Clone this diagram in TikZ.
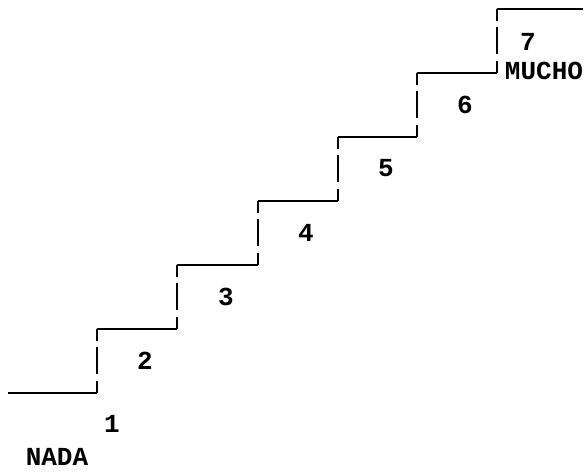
\documentclass[tikz,border=0pt]{standalone}
\usepackage{fontspec}
\setmonofont{Liberation Mono}
\begin{document}
\begin{tikzpicture}[
	x=1pt, y=-1pt,
	tread/.style = {line width=1.6pt},
	riser/.style = {line width=1.6pt, dash pattern=on 12pt off 6pt on 27pt off 7pt on 30pt},
	lbl/.style = {font=\ttfamily\bfseries\fontsize{26}{30}\selectfont, inner sep=0pt},
]
\useasboundingbox (0,0) rectangle (587,472);

% Floor and treads
\coordinate (s0) at (8,393);
\coordinate (s1) at (97,393);
\coordinate (t1) at (97,329);
\coordinate (s2) at (177,329);
\coordinate (t2) at (177,265);
\coordinate (s3) at (258,265);
\coordinate (t3) at (258,201);
\coordinate (s4) at (338,201);
\coordinate (t4) at (338,137);
\coordinate (s5) at (417,137);
\coordinate (t5) at (417,73);
\coordinate (s6) at (497,73);
\coordinate (t6) at (497,9);
\coordinate (s7) at (583,9);

\draw[tread] (s0) -- (s1);
\draw[tread] (t1) -- (s2);
\draw[tread] (t2) -- (s3);
\draw[tread] (t3) -- (s4);
\draw[tread] (t4) -- (s5);
\draw[tread] (t5) -- (s6);
\draw[tread] (t6) -- (s7);

% Risers
\draw[riser] (t1) -- (s1);
\draw[riser] (t2) -- (s2);
\draw[riser] (t3) -- (s3);
\draw[riser] (t4) -- (s4);
\draw[riser] (t5) -- (s5);
\draw[riser] (t6) -- (s6);

% Step numbers
\node [lbl] (n1) at (112,424) {1};
\node [lbl] (n2) at (145,361) {2};
\node [lbl] (n3) at (226,297) {3};
\node [lbl] (n4) at (306,233) {4};
\node [lbl] (n5) at (386,168) {5};
\node [lbl] (n6) at (465,105) {6};
\node [lbl] (n7) at (528,42) {7};

% Ends
\node [lbl] (nada) at (57,457) {NADA};
\node [lbl] (mucho) at (544,71) {MUCHO};

\end{tikzpicture}
\end{document}
